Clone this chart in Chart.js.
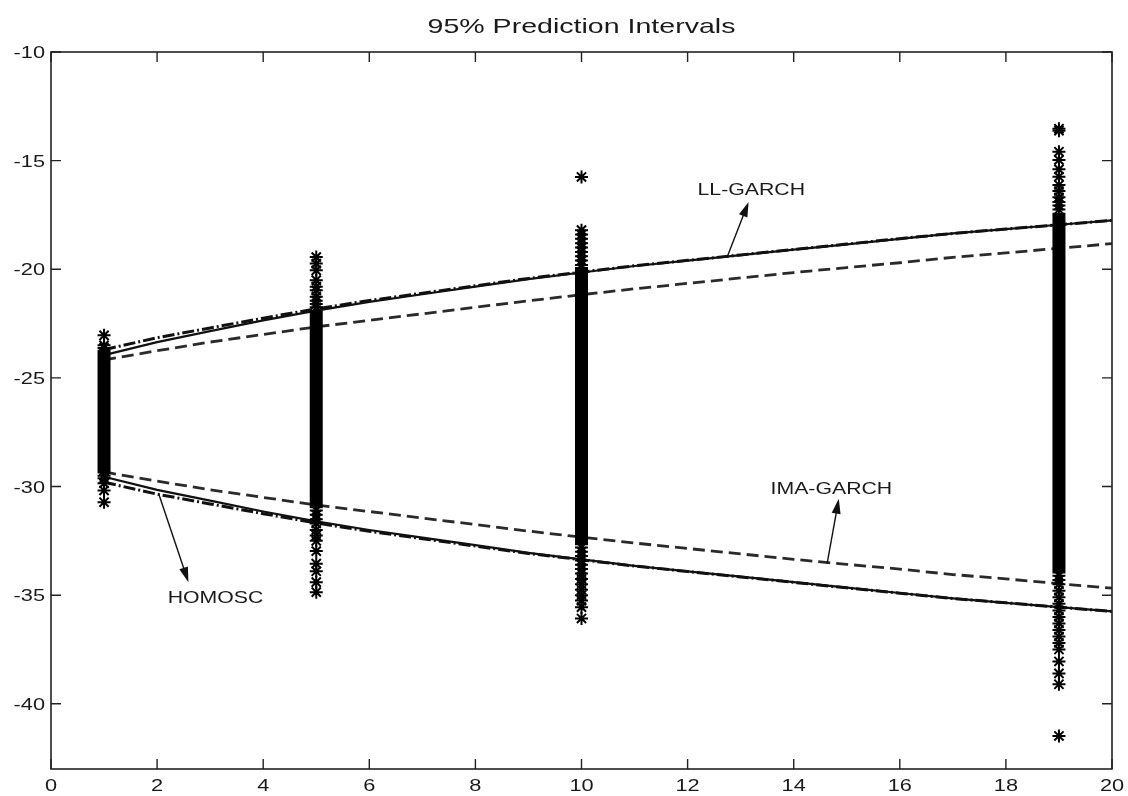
<!DOCTYPE html>
<html>
<head>
<meta charset="utf-8">
<title>95% Prediction Intervals</title>
<script src="https://cdn.jsdelivr.net/npm/chart.js@4.4.1/dist/chart.umd.min.js"></script>
<style>
    html, body { margin: 0; padding: 0; background: #fff; }
    #wrap { width: 1128px; height: 796px; }
</style>
</head>
<body>
<div id="wrap"><canvas id="chart" width="1128" height="796"></canvas></div>
<script>
// ── Data ─────────────────────────────────────────────────────
const titleText = '95% Prediction Intervals';
const horizon = [1, 2, 3, 4, 5, 6, 7, 8, 9, 10, 11, 12, 13, 14, 15, 16, 17, 18, 19, 20];

// HOMOSC (solid)
const homoscUpper = [-23.95, -23.35, -22.85, -22.35, -21.9, -21.5, -21.15, -20.8, -20.45, -20.15,
                     -19.85, -19.6, -19.35, -19.1, -18.85, -18.6, -18.35, -18.15, -17.95, -17.75];
const homoscLower = [-29.55, -30.15, -30.65, -31.15, -31.6, -32.0, -32.35, -32.7, -33.05, -33.35,
                     -33.65, -33.9, -34.15, -34.4, -34.65, -34.9, -35.15, -35.35, -35.55, -35.75];
// LL-GARCH (dash-dot)
const llUpper = [-23.7, -23.15, -22.7, -22.25, -21.82, -21.44, -21.1, -20.76, -20.42, -20.13,
                 -19.84, -19.59, -19.34, -19.09, -18.84, -18.59, -18.35, -18.15, -17.95, -17.75];
const llLower = [-29.8, -30.35, -30.8, -31.25, -31.68, -32.06, -32.4, -32.74, -33.08, -33.37,
                 -33.66, -33.91, -34.16, -34.41, -34.66, -34.91, -35.15, -35.35, -35.55, -35.75];
// IMA-GARCH (dashed)
const imaUpper = [-24.17, -23.75, -23.35, -23.0, -22.65, -22.35, -22.05, -21.75, -21.45, -21.17,
                  -20.9, -20.65, -20.4, -20.15, -19.92, -19.7, -19.45, -19.25, -19.03, -18.82];
const imaLower = [-29.33, -29.75, -30.15, -30.5, -30.85, -31.15, -31.45, -31.75, -32.05, -32.33,
                  -32.6, -32.85, -33.1, -33.35, -33.58, -33.8, -34.05, -34.25, -34.47, -34.68];

// simulated out-of-sample values at each forecast horizon
const clusterX = [1, 5, 10, 19];
const coreLow  = [-29.4, -31.0, -32.7, -34.0];   // dense (solid black) part
const coreHigh = [-23.7, -21.9, -19.9, -17.4];
const starsH1  = [-23.04, -23.5, -23.62, -29.5, -29.62, -29.85, -30.18, -30.72];
const starsH5  = [-19.44, -19.74, -20.05, -20.5, -20.8, -20.97, -21.27, -21.45, -21.6, -21.75,
                  -31.1, -31.3, -31.5, -31.7, -32.0, -32.25, -32.5, -32.97, -33.55, -33.9, -34.4, -34.86];
const starsH10 = [-15.75, -18.2, -18.4, -18.6, -18.8, -19.0, -19.2, -19.4, -19.6, -19.8,
                  -32.8, -33.0, -33.2, -33.4, -33.6, -33.8, -34.0, -34.25, -34.5, -34.75, -35.0,
                  -35.25, -35.55, -36.07];
const starsH19 = [-13.53, -13.62, -14.59, -14.97, -15.4, -15.74, -16.12, -16.4, -16.69, -16.9, -17.06,
                  -17.25, -34.1, -34.3, -34.5, -34.8, -35.1, -35.4, -35.7, -36.0, -36.3,
                  -36.6, -36.9, -37.2, -37.5, -38.05, -38.6, -39.1, -41.48];

// text annotations with arrows (data coordinates)
const notes = [
    { text: 'LL-GARCH',  x: 13.2, y: -16.57, from: [12.74, -19.47], to: [13.15, -16.9] },
    { text: 'IMA-GARCH', x: 14.71, y: -30.36, from: [14.63, -33.55], to: [14.85, -30.56] },
    { text: 'HOMOSC',    x: 3.10, y: -35.34, from: [2.03, -30.33],  to: [2.59, -34.4] },
];

// ── Datasets ─────────────────────────────────────────────────
const ink = '#111';
const FONT = '"Liberation Sans", Arial, Helvetica, sans-serif';

function curve(label, values, style) {
    return Object.assign({
        label,
        data: horizon.map((h, i) => ({ x: h, y: values[i] })),
        showLine: true,
        pointRadius: 0,
        borderColor: ink,
        borderWidth: 2.2,
        fill: false,
        tension: 0,
    }, style);
}

const dashDot = { borderWidth: 3, borderDash: [12, 3, 2, 3] };
const dashed = { borderWidth: 2.8, borderColor: '#2a2a2a', borderDash: [12, 6] };

const starGroups = [starsH1, starsH5, starsH10, starsH19];
const starPoints = [];
starGroups.forEach((g, k) => g.forEach(v => starPoints.push({ x: clusterX[k], y: v })));

const datasets = [];
clusterX.forEach((x, k) => {
    datasets.push({
        label: 'core ' + x,
        data: [{ x, y: coreLow[k] }, { x, y: coreHigh[k] }],
        showLine: true,
        pointRadius: 0,
        borderColor: '#000',
        borderWidth: 13,
        borderCapStyle: 'butt',
    });
});
datasets.push({
    label: 'simulated',
    data: starPoints,
    pointStyle: 'star',
    pointRadius: 6.5,
    borderWidth: 2,
    borderColor: '#000',
    backgroundColor: '#000',
});
datasets.push(curve('HOMOSC upper', homoscUpper, {}));
datasets.push(curve('HOMOSC lower', homoscLower, {}));
datasets.push(curve('LL-GARCH upper', llUpper, dashDot));
datasets.push(curve('LL-GARCH lower', llLower, dashDot));
datasets.push(curve('IMA-GARCH upper', imaUpper, dashed));
datasets.push(curve('IMA-GARCH lower', imaLower, dashed));

// ── Frame, ticks, labels (MATLAB style) ──────────────────────
function stretchedText(ctx, str, x, y, size, align, sx) {
    ctx.save();
    ctx.translate(x, y);
    ctx.scale(sx, 1);
    ctx.font = size + 'px ' + FONT;
    ctx.textAlign = align;
    ctx.textBaseline = 'alphabetic';
    ctx.fillStyle = '#1a1a1a';
    ctx.fillText(str, 0, 0);
    ctx.restore();
}

const matlabFrame = {
    id: 'matlabFrame',
    afterDraw(chart) {
        const { ctx, chartArea: a, scales: { x: xs, y: ys } } = chart;
        ctx.save();
        ctx.strokeStyle = '#222';
        ctx.lineWidth = 1.6;
        ctx.strokeRect(a.left, a.top, a.right - a.left, a.bottom - a.top);

        const tl = 10;
        ctx.lineWidth = 1.4;
        ctx.beginPath();
        xs.ticks.forEach(t => {
            const px = xs.getPixelForValue(t.value);
            ctx.moveTo(px, a.bottom); ctx.lineTo(px, a.bottom - tl);
            ctx.moveTo(px, a.top); ctx.lineTo(px, a.top + tl);
        });
        ys.ticks.filter(t => t.value % 5 === 0).forEach(t => {
            const py = ys.getPixelForValue(t.value);
            ctx.moveTo(a.left, py); ctx.lineTo(a.left + tl, py);
            ctx.moveTo(a.right, py); ctx.lineTo(a.right - tl, py);
        });
        ctx.stroke();

        xs.ticks.forEach(t => {
            stretchedText(ctx, String(t.value), xs.getPixelForValue(t.value), a.bottom + 22, 17, 'center', 1.28);
        });
        ys.ticks.filter(t => t.value % 5 === 0).forEach(t => {
            stretchedText(ctx, String(t.value), a.left - 6, ys.getPixelForValue(t.value) + 6, 17, 'right', 1.28);
        });

        stretchedText(ctx, titleText, (a.left + a.right) / 2, 33, 21, 'center', 1.36);

        notes.forEach(n => {
            stretchedText(ctx, n.text, xs.getPixelForValue(n.x), ys.getPixelForValue(n.y), 17, 'center', 1.25);
            const x0 = xs.getPixelForValue(n.from[0]), y0 = ys.getPixelForValue(n.from[1]);
            const x1 = xs.getPixelForValue(n.to[0]), y1 = ys.getPixelForValue(n.to[1]);
            const ang = Math.atan2(y1 - y0, x1 - x0);
            const len = 15, half = 4.5;
            ctx.strokeStyle = '#111';
            ctx.lineWidth = 1.4;
            ctx.beginPath();
            ctx.moveTo(x0, y0);
            ctx.lineTo(x1 - Math.cos(ang) * len * 0.8, y1 - Math.sin(ang) * len * 0.8);
            ctx.stroke();
            ctx.fillStyle = '#111';
            ctx.beginPath();
            ctx.moveTo(x1, y1);
            ctx.lineTo(x1 - Math.cos(ang) * len - Math.sin(ang) * half, y1 - Math.sin(ang) * len + Math.cos(ang) * half);
            ctx.lineTo(x1 - Math.cos(ang) * len + Math.sin(ang) * half, y1 - Math.sin(ang) * len - Math.cos(ang) * half);
            ctx.closePath();
            ctx.fill();
        });
        ctx.restore();
    }
};

// ── Chart ────────────────────────────────────────────────────
new Chart(document.getElementById('chart'), {
    type: 'scatter',
    data: { datasets },
    options: {
        responsive: false,
        animation: false,
        events: [],
        layout: { padding: { left: 51, top: 52, right: 16, bottom: 27 } },
        plugins: {
            legend: { display: false },
            tooltip: { enabled: false },
            title: { display: false },
        },
        scales: {
            x: {
                type: 'linear', min: 0, max: 20,
                ticks: { display: false, stepSize: 2 },
                grid: { display: false },
                border: { display: false },
                afterFit: s => { s.height = 0; },
            },
            y: {
                type: 'linear', min: -43, max: -10,
                ticks: { display: false, stepSize: 5 },
                grid: { display: false },
                border: { display: false },
                afterFit: s => { s.width = 0; },
            },
        },
    },
    plugins: [matlabFrame],
});
</script>
</body>
</html>
